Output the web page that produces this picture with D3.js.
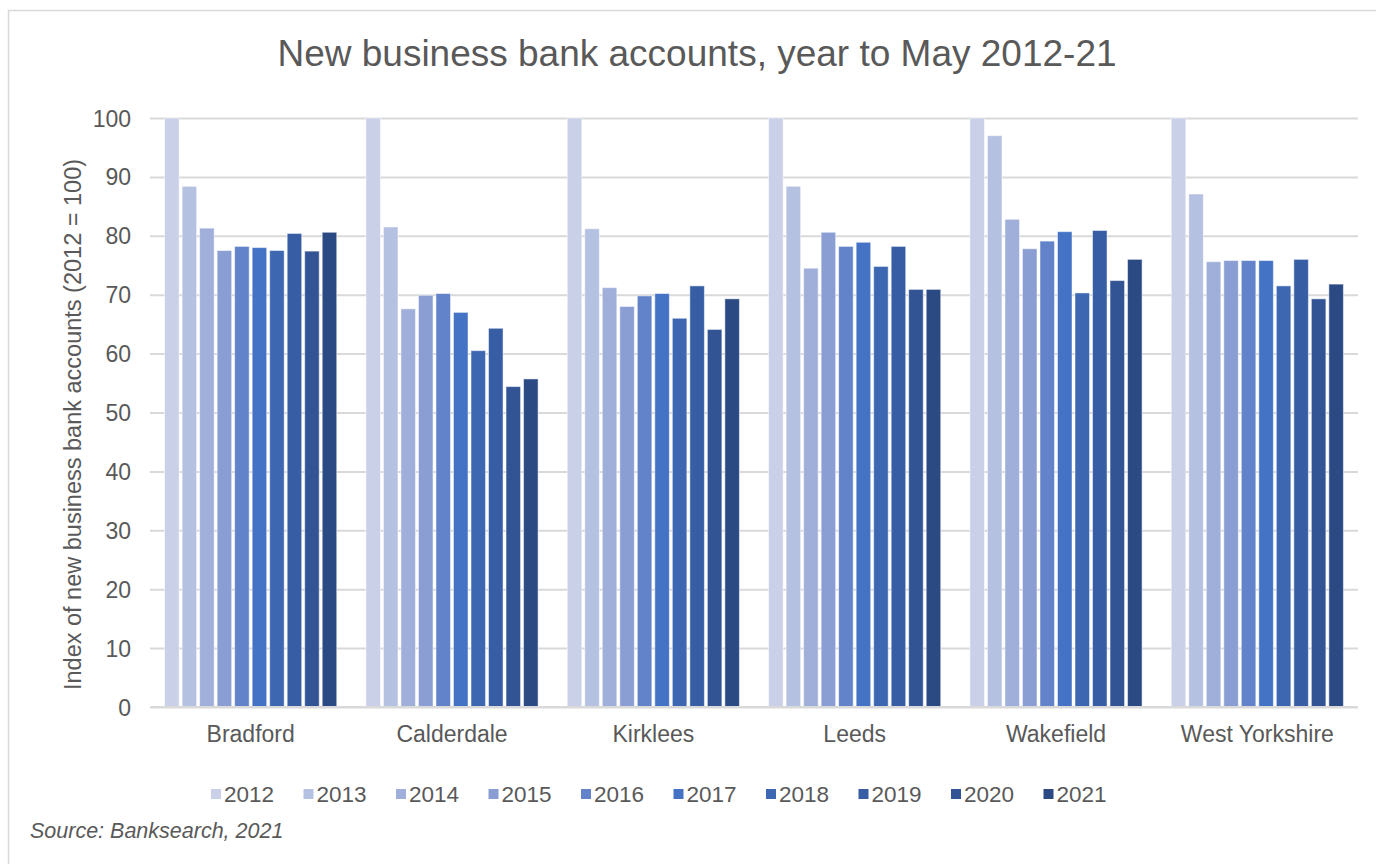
<!DOCTYPE html>
<html>
<head>
<meta charset="utf-8">
<script src="https://cdn.jsdelivr.net/npm/d3@7"></script>
<style>
  html, body { margin: 0; padding: 0; background: #fff; }
  svg { display: block; font-family: "Liberation Sans", Arial, sans-serif; }
</style>
</head>
<body>
<svg id="chart" width="1376" height="864"></svg>
<script>
// Areas along the x axis
const areas = ["Bradford", "Calderdale", "Kirklees", "Leeds", "Wakefield", "West Yorkshire"];
// One series per year (index, 2012 = 100)
const years = ["2012", "2013", "2014", "2015", "2016", "2017", "2018", "2019", "2020", "2021"];
const bradford      = [100, 88.4, 81.3, 77.5, 78.2, 78.0, 77.5, 80.4, 77.4, 80.6];
const calderdale    = [100, 81.5, 67.6, 69.9, 70.2, 67.0, 60.5, 64.3, 54.4, 55.7];
const kirklees      = [100, 81.2, 71.2, 68.0, 69.8, 70.2, 66.0, 71.5, 64.1, 69.3];
const leeds         = [100, 88.4, 74.5, 80.6, 78.2, 78.9, 74.8, 78.2, 70.9, 70.9];
const wakefield     = [100, 97.0, 82.8, 77.8, 79.1, 80.7, 70.3, 80.9, 72.4, 76.0];
const westYorkshire = [100, 87.1, 75.6, 75.8, 75.8, 75.8, 71.5, 76.0, 69.3, 71.8];
const yTicks = [0, 10, 20, 30, 40, 50, 60, 70, 80, 90, 100];

const seriesByArea = [bradford, calderdale, kirklees, leeds, wakefield, westYorkshire];
const yearColors = ["#c9d0e7", "#b5c1e0", "#a0afda", "#8a9ed4", "#6283c9",
                    "#4472c4", "#3e67b2", "#375ea4", "#325495", "#2b4a84"];

const svg = d3.select("#chart");
const textColor = "#595959";
const labelSize = 23;

// chart frame
svg.append("rect")
  .attr("x", 8.5).attr("y", 10.5)
  .attr("width", 1400).attr("height", 900)
  .attr("fill", "#fff").attr("stroke", "#d9d9d9").attr("stroke-width", 1.5);

const plot = { left: 150, right: 1358, top: 118, bottom: 707 };

const x0 = d3.scaleBand().domain(areas).range([plot.left, plot.right]).paddingInner(0).paddingOuter(0);
const x1 = d3.scaleBand().domain(years).range([0, x0.bandwidth() * 0.855]).paddingInner(0.17).paddingOuter(0);
const groupOffset = (x0.bandwidth() - x0.bandwidth() * 0.855) / 2;
const y = d3.scaleLinear().domain([0, 100]).range([plot.bottom, plot.top]);

// title
svg.append("text")
  .attr("x", 697).attr("y", 66)
  .attr("text-anchor", "middle")
  .attr("font-size", 37).attr("fill", textColor)
  .text("New business bank accounts, year to May 2012-21");

// horizontal gridlines and y axis labels
const yAxis = d3.axisLeft(y).tickValues(yTicks).tickSize(-(plot.right - plot.left)).tickPadding(19);
const yg = svg.append("g").attr("transform", `translate(${plot.left},0)`).call(yAxis);
yg.select(".domain").remove();
yg.selectAll(".tick line").attr("stroke", "#d9d9d9").attr("stroke-width", 2);
yg.selectAll(".tick text").attr("font-size", labelSize).attr("fill", textColor)
  .attr("font-family", "Liberation Sans, Arial, sans-serif").attr("dy", "0.35em");

// y axis title
svg.append("text")
  .attr("transform", `translate(81,${(plot.top + plot.bottom) / 2 + 12}) rotate(-90)`)
  .attr("text-anchor", "middle")
  .attr("font-size", 23.5).attr("fill", textColor)
  .text("Index of new business bank accounts (2012 = 100)");

// bars
const groups = svg.append("g").selectAll("g")
  .data(areas)
  .join("g")
  .attr("transform", d => `translate(${x0(d) + groupOffset},0)`);

groups.selectAll("rect")
  .data((d, i) => seriesByArea[i].map((v, j) => ({ year: years[j], value: v, idx: j })))
  .join("rect")
  .attr("x", d => x1(d.year))
  .attr("width", x1.bandwidth())
  .attr("y", d => y(d.value))
  .attr("height", d => y(0) - y(d.value))
  .attr("fill", d => yearColors[d.idx])
  .attr("stroke", "#ffffff").attr("stroke-opacity", 0.5).attr("stroke-width", 1);

// baseline
svg.append("line")
  .attr("x1", plot.left).attr("x2", plot.right)
  .attr("y1", plot.bottom).attr("y2", plot.bottom)
  .attr("stroke", "#d9d9d9").attr("stroke-width", 2);

// x axis labels
const xAxis = d3.axisBottom(x0).tickSize(0).tickPadding(19);
const xg = svg.append("g").attr("transform", `translate(0,${plot.bottom})`).call(xAxis);
xg.select(".domain").remove();
xg.selectAll(".tick text").attr("font-size", labelSize).attr("fill", textColor)
  .attr("font-family", "Liberation Sans, Arial, sans-serif");

// legend
const legend = svg.append("g").selectAll("g")
  .data(years)
  .join("g")
  .attr("transform", (d, i) => `translate(${211 + i * 92.5},794)`);
legend.append("rect")
  .attr("x", 0).attr("y", -5).attr("width", 10).attr("height", 10)
  .attr("fill", (d, i) => yearColors[i]);
legend.append("text")
  .attr("x", 13).attr("y", 0).attr("dy", "0.35em")
  .attr("font-size", 22.5).attr("fill", textColor)
  .text(d => d);

// source note
svg.append("text")
  .attr("x", 30).attr("y", 838)
  .attr("font-size", 21.5).attr("font-style", "italic").attr("fill", textColor)
  .text("Source: Banksearch, 2021");
</script>
</body>
</html>
